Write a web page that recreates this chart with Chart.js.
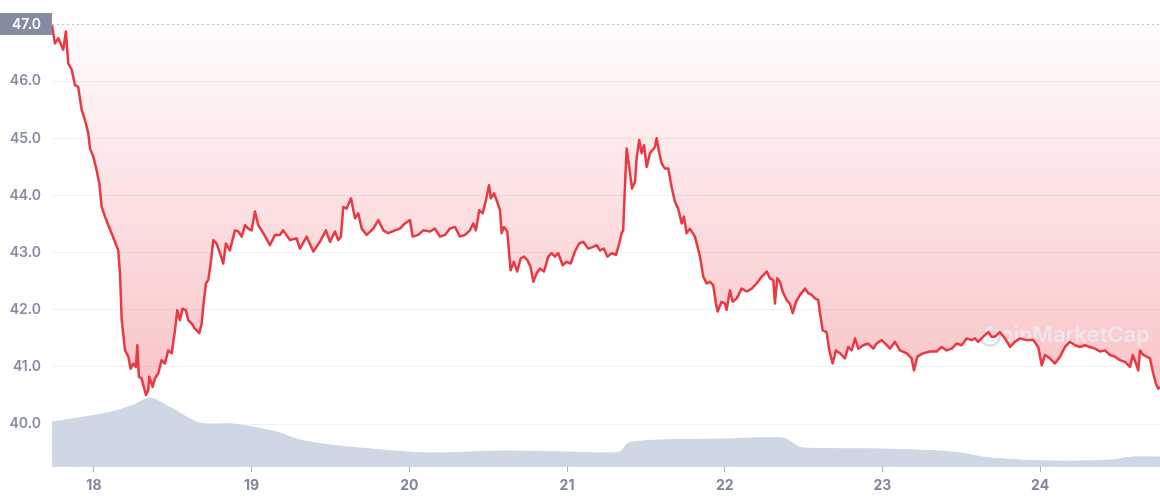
<!DOCTYPE html>
<html>
<head>
<meta charset="utf-8">
<title>Price chart</title>
<script src="https://cdn.jsdelivr.net/npm/chart.js@4/dist/chart.umd.min.js"></script>
<style>
  html, body { margin: 0; padding: 0; background: #fff; }
  #wrap { width: 1160px; height: 500px; }
</style>
</head>
<body>
<div id="wrap"><canvas id="priceChart" width="1160" height="500"></canvas></div>
<script>
// price samples: fractional day of month -> price
const priceDays = [
  17.734, 17.753, 17.774, 17.805, 17.822, 17.837, 17.859, 17.880, 17.900, 17.922,
  17.943, 17.964, 17.975, 17.996, 18.017, 18.034, 18.049, 18.070, 18.091, 18.112,
  18.133, 18.154, 18.165, 18.176, 18.197, 18.218, 18.233, 18.249, 18.266, 18.275,
  18.285, 18.302, 18.313, 18.330, 18.344, 18.351, 18.372, 18.387, 18.408, 18.429,
  18.450, 18.471, 18.493, 18.514, 18.528, 18.545, 18.562, 18.583, 18.598, 18.620,
  18.640, 18.668, 18.683, 18.693, 18.710, 18.725, 18.740, 18.757, 18.778, 18.799,
  18.820, 18.837, 18.862, 18.894, 18.915, 18.937, 18.958, 18.978, 19.000, 19.021,
  19.042, 19.074, 19.116, 19.148, 19.179, 19.200, 19.243, 19.285, 19.306, 19.349,
  19.391, 19.433, 19.471, 19.497, 19.528, 19.549, 19.566, 19.581, 19.602, 19.630,
  19.655, 19.676, 19.698, 19.729, 19.771, 19.803, 19.835, 19.866, 19.909, 19.940,
  19.972, 20.004, 20.021, 20.056, 20.088, 20.131, 20.162, 20.194, 20.226, 20.257,
  20.289, 20.321, 20.353, 20.384, 20.405, 20.422, 20.443, 20.465, 20.486, 20.505,
  20.517, 20.537, 20.557, 20.575, 20.585, 20.600, 20.621, 20.642, 20.663, 20.684,
  20.706, 20.727, 20.748, 20.769, 20.786, 20.807, 20.828, 20.854, 20.881, 20.902,
  20.923, 20.944, 20.972, 20.997, 21.023, 21.050, 21.077, 21.103, 21.134, 21.166,
  21.188, 21.209, 21.234, 21.255, 21.283, 21.310, 21.331, 21.346, 21.356, 21.367,
  21.378, 21.394, 21.412, 21.431, 21.441, 21.458, 21.473, 21.488, 21.505, 21.526,
  21.557, 21.568, 21.585, 21.600, 21.621, 21.642, 21.663, 21.684, 21.705, 21.727,
  21.741, 21.758, 21.779, 21.811, 21.843, 21.864, 21.885, 21.906, 21.927, 21.944,
  21.955, 21.980, 22.001, 22.012, 22.033, 22.050, 22.076, 22.107, 22.139, 22.171,
  22.202, 22.234, 22.266, 22.287, 22.308, 22.318, 22.333, 22.350, 22.367, 22.393,
  22.413, 22.431, 22.452, 22.477, 22.509, 22.530, 22.551, 22.572, 22.593, 22.604,
  22.621, 22.646, 22.663, 22.684, 22.705, 22.730, 22.762, 22.783, 22.805, 22.826,
  22.847, 22.878, 22.910, 22.942, 22.963, 22.995, 23.027, 23.048, 23.079, 23.111,
  23.153, 23.185, 23.200, 23.221, 23.259, 23.301, 23.344, 23.375, 23.407, 23.439,
  23.470, 23.502, 23.534, 23.566, 23.587, 23.607, 23.639, 23.671, 23.692, 23.713,
  23.745, 23.777, 23.809, 23.840, 23.872, 23.914, 23.956, 23.988, 24.010, 24.031,
  24.062, 24.094, 24.126, 24.157, 24.189, 24.221, 24.252, 24.284, 24.316, 24.348,
  24.379, 24.411, 24.443, 24.474, 24.506, 24.538, 24.570, 24.587, 24.608, 24.622,
  24.633, 24.654, 24.675, 24.696, 24.717, 24.734, 24.749, 24.760
];
const priceValues = [
  46.98, 46.66, 46.75, 46.55, 46.87, 46.31, 46.20, 45.93, 45.90, 45.50,
  45.32, 45.09, 44.82, 44.68, 44.44, 44.21, 43.80, 43.63, 43.48, 43.34,
  43.19, 43.04, 42.64, 41.82, 41.29, 41.18, 40.97, 41.06, 41.00, 41.38,
  40.83, 40.80, 40.68, 40.51, 40.59, 40.83, 40.65, 40.80, 40.89, 41.12,
  41.06, 41.29, 41.24, 41.64, 41.99, 41.82, 42.02, 41.99, 41.82, 41.76,
  41.67, 41.59, 41.76, 42.05, 42.46, 42.52, 42.81, 43.22, 43.16, 42.99,
  42.81, 43.16, 43.04, 43.39, 43.37, 43.28, 43.48, 43.42, 43.39, 43.72,
  43.48, 43.34, 43.13, 43.31, 43.31, 43.39, 43.22, 43.25, 43.07, 43.28,
  43.02, 43.19, 43.39, 43.19, 43.37, 43.22, 43.28, 43.80, 43.77, 43.95,
  43.60, 43.69, 43.42, 43.31, 43.42, 43.57, 43.39, 43.34, 43.39, 43.42,
  43.51, 43.57, 43.28, 43.31, 43.39, 43.37, 43.42, 43.28, 43.31, 43.42,
  43.45, 43.28, 43.31, 43.39, 43.51, 43.39, 43.74, 43.69, 43.92, 44.18,
  43.95, 44.04, 43.89, 43.74, 43.34, 43.45, 43.37, 42.69, 42.84, 42.67,
  42.90, 42.93, 42.87, 42.75, 42.49, 42.64, 42.72, 42.67, 42.93, 42.99,
  42.93, 42.99, 42.78, 42.84, 42.81, 43.02, 43.16, 43.19, 43.07, 43.10,
  43.13, 43.04, 43.07, 42.93, 42.99, 42.96, 43.16, 43.34, 43.39, 44.15,
  44.82, 44.50, 44.12, 44.24, 44.65, 44.97, 44.74, 44.88, 44.50, 44.74,
  44.85, 45.00, 44.74, 44.56, 44.47, 44.47, 44.15, 43.89, 43.77, 43.51,
  43.63, 43.34, 43.42, 43.28, 42.93, 42.58, 42.46, 42.49, 42.43, 42.11,
  41.97, 42.14, 42.11, 42.00, 42.34, 42.14, 42.20, 42.37, 42.32, 42.37,
  42.46, 42.58, 42.67, 42.55, 42.52, 42.11, 42.55, 42.49, 42.32, 42.17,
  42.11, 41.94, 42.14, 42.26, 42.37, 42.29, 42.26, 42.20, 42.17, 41.94,
  41.64, 41.61, 41.29, 41.06, 41.29, 41.24, 41.15, 41.35, 41.29, 41.50,
  41.32, 41.38, 41.41, 41.32, 41.41, 41.47, 41.38, 41.32, 41.44, 41.29,
  41.24, 41.15, 40.94, 41.18, 41.24, 41.27, 41.27, 41.35, 41.29, 41.32,
  41.41, 41.38, 41.50, 41.47, 41.50, 41.44, 41.53, 41.61, 41.53, 41.53,
  41.61, 41.50, 41.35, 41.44, 41.50, 41.47, 41.47, 41.35, 41.03, 41.21,
  41.15, 41.06, 41.18, 41.35, 41.44, 41.38, 41.35, 41.38, 41.35, 41.32,
  41.27, 41.29, 41.21, 41.18, 41.12, 41.09, 41.00, 41.21, 41.06, 40.94,
  41.29, 41.21, 41.18, 41.15, 40.89, 40.71, 40.62, 40.65
];

// volume profile (relative units, own hidden axis)
const volumeDays = [
  17.734, 17.90, 18.11, 18.25, 18.355, 18.48, 18.672, 18.881, 19.16, 19.306,
  19.50, 19.69, 19.90, 20.15, 20.60, 21.00, 21.33, 21.39, 21.60, 22.00,
  22.37, 22.45, 22.50, 23.00, 23.36, 23.50, 23.68, 24.09, 24.45, 24.59, 24.76
];
const volumeValues = [
  45, 49, 55, 62, 69, 60, 44, 43, 35, 27,
  22, 19, 16, 14, 16, 15, 15, 24, 27, 28,
  29, 22, 19, 18, 16, 14, 9, 6, 7, 10, 10
];
const VOLUME_AXIS_MAX = 443;

const yTicks = [40, 41, 42, 43, 44, 45, 46, 47];
const xTicks = [18, 19, 20, 21, 22, 23, 24];
const xTickLabels = ['18', '19', '20', '21', '22', '23', '24'];
const openPrice = 47.0;

const RED = '#ea3943';
const LABEL_GREY = '#858ca2';
const FONT = 'Inter, "Noto Sans", sans-serif';

const priceData = priceDays.map((d, i) => ({ x: d, y: priceValues[i] }));
const volumeData = volumeDays.map((d, i) => ({ x: d, y: volumeValues[i] }));

// fill gradient, fading out towards the top
const fillGradient = (context) => {
  const chart = context.chart;
  const area = chart.chartArea;
  if (!area) return 'rgba(234,57,67,0.15)';
  const bottom = chart.scales.y.getPixelForValue(40.5);
  const g = chart.ctx.createLinearGradient(0, area.top, 0, bottom);
  g.addColorStop(0, 'rgba(234,57,67,0.01)');
  g.addColorStop(1, 'rgba(234,57,67,0.30)');
  return g;
};

// watermark, dotted open line and the boxed open price label
const decorPlugin = {
  id: 'decor',
  beforeDatasetDraw(chart, args) {
    if (args.index !== 0) return;
    const { ctx, chartArea } = chart;
    const y = chart.scales.y.getPixelForValue(41.55);
    ctx.save();
    ctx.fillStyle = 'rgba(238,240,245,0.7)';
    ctx.strokeStyle = 'rgba(214,218,228,0.85)';
    ctx.font = '600 22px ' + FONT;
    ctx.textAlign = 'right';
    ctx.textBaseline = 'middle';
    ctx.fillText('CoinMarketCap', chartArea.right - 10, y);
    ctx.lineWidth = 2.5;
    ctx.beginPath();
    ctx.arc(chartArea.right - 170, y, 10, 0, Math.PI * 2);
    ctx.stroke();
    ctx.restore();
  },
  afterDraw(chart) {
    const { ctx, chartArea } = chart;
    const y = Math.round(chart.scales.y.getPixelForValue(openPrice));
    ctx.save();
    ctx.strokeStyle = '#b8bfcc';
    ctx.lineWidth = 1;
    ctx.setLineDash([2, 3]);
    ctx.beginPath();
    ctx.moveTo(chartArea.left, y + 0.5);
    ctx.lineTo(chartArea.right, y + 0.5);
    ctx.stroke();
    ctx.setLineDash([]);
    ctx.fillStyle = LABEL_GREY;
    ctx.fillRect(0, y - 11, chartArea.left, 22);
    ctx.fillStyle = '#ffffff';
    ctx.font = '600 14px ' + FONT;
    ctx.textAlign = 'right';
    ctx.textBaseline = 'middle';
    ctx.fillText(openPrice.toFixed(1), 41, y + 1);
    ctx.restore();
  }
};

const ctx = document.getElementById('priceChart').getContext('2d');
const priceChart = new Chart(ctx, {
  type: 'line',
  data: {
    datasets: [
      {
        label: 'Price',
        data: priceData,
        yAxisID: 'y',
        order: 0,
        borderColor: RED,
        borderWidth: 2.5,
        borderJoinStyle: 'round',
        pointRadius: 0,
        tension: 0,
        fill: { value: openPrice },
        backgroundColor: fillGradient,
      },
      {
        label: 'Volume',
        data: volumeData,
        yAxisID: 'y1',
        order: 1,
        borderColor: '#cfd6e4',
        borderWidth: 1,
        pointRadius: 0,
        tension: 0.3,
        fill: 'origin',
        backgroundColor: '#cfd6e4',
      },
    ],
  },
  options: {
    responsive: false,
    animation: false,
    devicePixelRatio: 1,
    layout: { padding: { top: 24, right: 0, bottom: 0, left: 0 } },
    plugins: {
      legend: { display: false },
      tooltip: { enabled: false },
    },
    scales: {
      x: {
        type: 'linear',
        min: 17.734,
        max: 24.76,
        afterBuildTicks: (scale) => { scale.ticks = xTicks.map((v) => ({ value: v })); },
        afterFit: (scale) => { scale.height = 33; },
        ticks: {
          autoSkip: false,
          maxRotation: 0,
          padding: 5,
          color: '#7f869a',
          font: { family: FONT, size: 14, weight: '700' },
          callback: (v) => xTickLabels[xTicks.indexOf(v)],
        },
        grid: {
          drawOnChartArea: false,
          drawTicks: true,
          tickLength: 5,
          tickColor: '#a6b0c3',
        },
        border: { display: false },
      },
      y: {
        position: 'left',
        min: 39.25,
        max: 47,
        afterBuildTicks: (scale) => { scale.ticks = yTicks.map((v) => ({ value: v })); },
        afterFit: (scale) => { scale.width = 52; },
        ticks: {
          padding: 11,
          color: LABEL_GREY,
          font: { family: FONT, size: 14, weight: '600' },
          callback: (v) => (v === openPrice ? '' : v.toFixed(1)),
        },
        grid: {
          drawTicks: false,
          color: (c) => (c.tick && c.tick.value === openPrice ? 'rgba(0,0,0,0)' : '#eef1f5'),
        },
        border: { display: false },
      },
      y1: {
        display: false,
        min: 0,
        max: VOLUME_AXIS_MAX,
      },
    },
  },
  plugins: [decorPlugin],
});
</script>
</body>
</html>
